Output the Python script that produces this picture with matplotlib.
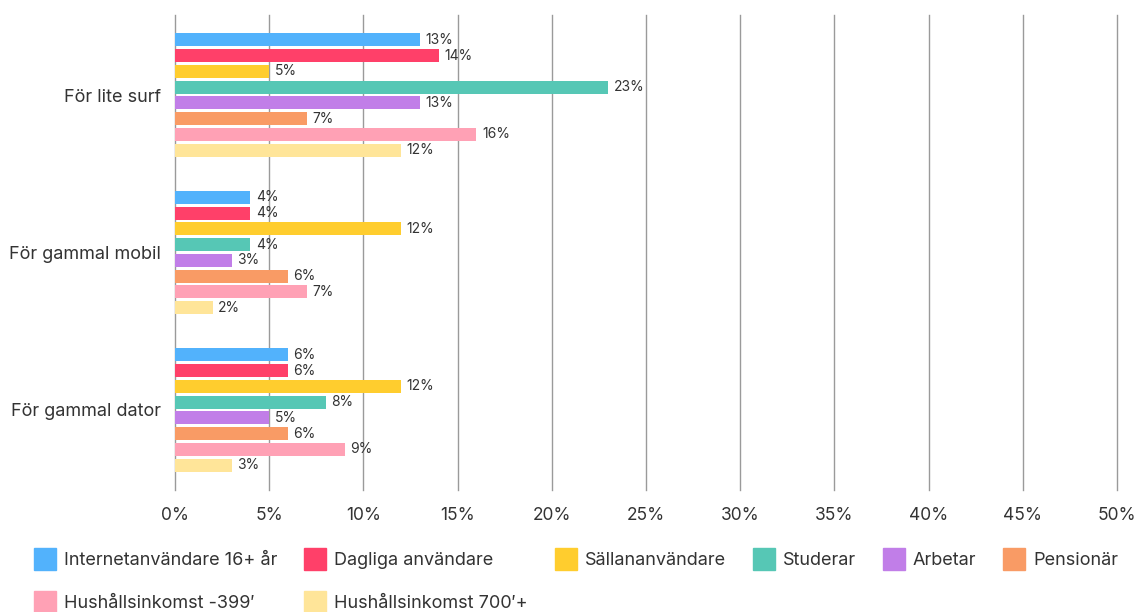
import numpy as np
import matplotlib
matplotlib.use("Agg")
import matplotlib.pyplot as plt
from matplotlib.lines import Line2D

plt.rcParams["font.family"] = ["Inter", "DejaVu Sans"]

# ----------------------------
# Data (percent)
# ----------------------------
categories = ["För lite surf", "För gammal mobil", "För gammal dator"]
seriesNames = [
    "Internetanvändare 16+ år",
    "Dagliga användare",
    "Sällananvändare",
    "Studerar",
    "Arbetar",
    "Pensionär",
    "Hushållsinkomst -399′",
    "Hushållsinkomst 700′+",
]
internet16 = [13, 4, 6]
dagliga = [14, 4, 6]
sallan = [5, 12, 12]
studerar = [23, 4, 8]
arbetar = [13, 3, 5]
pensionar = [7, 6, 6]
inkomstLow = [16, 7, 9]
inkomstHigh = [12, 2, 3]
xTicks = [0, 5, 10, 15, 20, 25, 30, 35, 40, 45, 50]

seriesValues = [internet16, dagliga, sallan, studerar, arbetar, pensionar, inkomstLow, inkomstHigh]
colors = ["#52b2fc", "#ff4069", "#ffcd2e", "#56c7b5", "#c17ee8", "#f99b65", "#ffa1b5", "#ffe599"]
textColor = "#333333"

fig = plt.figure(figsize=(11.36, 6.12), dpi=100)
ax = fig.add_axes([175 / 1136, 1 - 490 / 612, (1117 - 175) / 1136, 475 / 612])

slot = 0.1
barH = 0.083
yBase = np.arange(len(categories))
for i, (vals, col) in enumerate(zip(seriesValues, colors)):
    yPos = yBase + (i - 3.5) * slot
    bars = ax.barh(yPos, vals, height=barH, color=col, zorder=3)
    ax.bar_label(bars, labels=[f"{v}%" for v in vals], padding=4,
                 fontsize=10, color=textColor)

ax.set_xlim(0, 50)
ax.set_ylim(2.508, -0.508)
ax.set_xticks(xTicks)
ax.set_xticklabels([f"{t}%" for t in xTicks], fontsize=12.5, color=textColor)
ax.set_yticks(yBase)
ax.set_yticklabels(categories, fontsize=13, color=textColor)
ax.tick_params(axis="both", length=0)
ax.tick_params(axis="x", pad=12)
ax.tick_params(axis="y", pad=10)
ax.grid(axis="x", color="#9a9a9a", linewidth=1, zorder=0)
for gl in ax.get_xgridlines():
    gl.set_clip_on(False)
for side in ["top", "right", "bottom", "left"]:
    ax.spines[side].set_visible(False)

# legend: order handles so that column-major fill reproduces the row layout
order = [0, 6, 1, 7, 2, 3, 4, 5]
handles = [Line2D([], [], marker="s", linestyle="none", markersize=16,
                  markerfacecolor=colors[k], markeredgecolor=colors[k]) for k in order]
labels = [seriesNames[k] for k in order]
fig.legend(handles, labels, loc="upper left", bbox_to_anchor=(18 / 1136, 1 - 536 / 612),
           ncol=6, frameon=False, fontsize=13, labelcolor=textColor,
           handlelength=1.2, handletextpad=0.45, columnspacing=1.5, labelspacing=1.45)

fig.savefig("out.png", dpi=100)
